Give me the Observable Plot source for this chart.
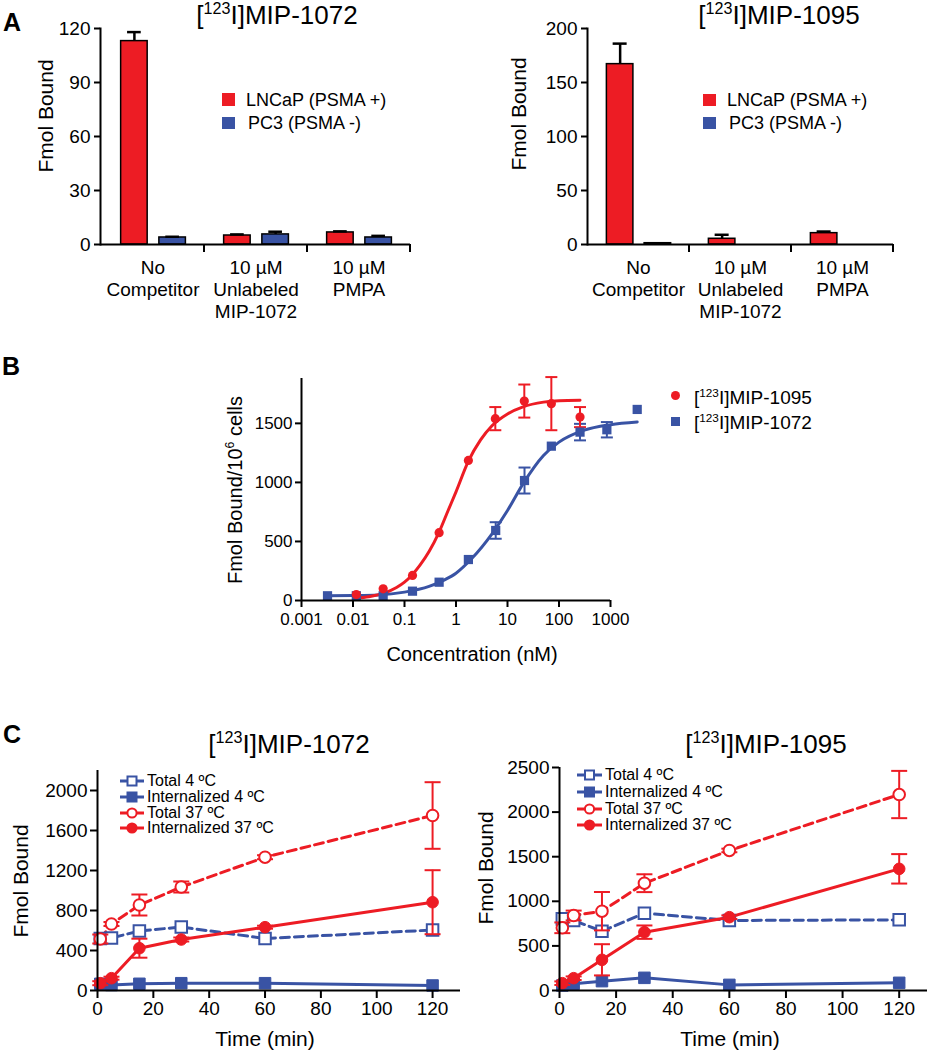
<!DOCTYPE html>
<html>
<head>
<meta charset="utf-8">
<script src="https://cdn.jsdelivr.net/npm/d3@7"></script>
<script src="https://cdn.jsdelivr.net/npm/@observablehq/plot@0.6"></script>
<style>
  body { margin: 0; background: #fff; }
  #fig { position: relative; width: 930px; height: 1050px; overflow: hidden;
         font-family: "Liberation Sans", Arial, Helvetica, sans-serif; color: #000; background: #fff; }
  .abs { position: absolute; white-space: nowrap; line-height: 1; }
  .panel { position: absolute; }
  sup { font-size: 0.62em; line-height: 0; vertical-align: baseline; position: relative; top: -0.62em; }
</style>
</head>
<body>
<div id="fig"></div>
<script>
// ---------------- DATA ----------------
// Panel A : binding with / without competitor
const groupsA = ["No\nCompetitor", "10 µM\nUnlabeled\nMIP-1072", "10 µM\nPMPA"];
const cellLines = ["LNCaP (PSMA +)", "PC3 (PSMA -)"];
const a1072_lncap = [113, 5.0, 6.7];
const a1072_lncap_sem = [5, 0.6, 0.6];
const a1072_pc3 = [3.9, 5.6, 3.9];
const a1072_pc3_sem = [0.4, 1.5, 0.9];
const a1095_lncap = [167, 5.3, 10.5];
const a1095_lncap_sem = [19, 3.7, 1.5];
const a1095_pc3 = [1.2, 0, 0];
const a1095_pc3_sem = [0, 0, 0];
const ticksA1072 = [0, 30, 60, 90, 120];
const ticksA1095 = [0, 50, 100, 150, 200];

// Panel B : saturation binding (nM vs fmol/10^6 cells)
const b1095_conc = [0.0116, 0.0385, 0.143, 0.47, 1.74, 5.8, 21.2, 71, 256];
const b1095_fmol = [50, 99, 212, 574, 1186, 1540, 1689, 1667, 1553];
const b1095_sem  = [0, 0, 0, 0, 0, 98, 140, 225, 85];
const b1072_conc = [0.0032, 0.0116, 0.0385, 0.143, 0.47, 1.74, 5.9, 21.4, 71, 256, 850, 3300];
const b1072_fmol = [40, 40, 40, 79, 155, 347, 593, 1016, 1307, 1426, 1446, 1618];
const b1072_sem  = [0, 0, 0, 0, 0, 0, 70, 110, 0, 70, 65, 0];
// fitted curves
const b1095_fitConc = [0.012, 0.02, 0.04, 0.07, 0.1, 0.2, 0.3, 0.47, 0.7, 1, 1.74, 3, 5, 10, 20, 50, 100, 256];
const b1095_fitFmol = [20, 32, 62, 110, 155, 300, 415, 580, 760, 920, 1180, 1360, 1480, 1580, 1640, 1680, 1692, 1695];
const b1072_fitConc = [0.0032, 0.01, 0.03, 0.1, 0.3, 0.6, 1, 2, 5, 10, 20, 50, 100, 300, 1000, 3300];
const b1072_fitFmol = [40, 42, 47, 71, 119, 175, 231, 353, 565, 762, 988, 1228, 1341, 1440, 1489, 1512];
const bTickValues = [0.001, 0.01, 0.1, 1, 10, 100, 1000];
const bTickLabels = ["0.001", "0.01", "0.1", "1", "10", "100", "1000"];
const bYTicks = [0, 500, 1000, 1500];

// Panel C : internalization time course
const timeMin = [1, 5, 15, 30, 60, 120];
const seriesC = ["Total 4 ºC", "Internalized 4 ºC", "Total 37 ºC", "Internalized 37 ºC"];
const c1072_total4 = [520, 525, 595, 635, 520, 605];
const c1072_total4_sem = [0, 0, 0, 0, 0, 0];
const c1072_int4 = [67, 55, 67, 73, 73, 50];
const c1072_int4_sem = [0, 0, 0, 0, 0, 0];
const c1072_total37 = [515, 665, 855, 1035, 1333, 1750];
const c1072_total37_sem = [45, 20, 105, 55, 20, 333];
const c1072_int37 = [73, 123, 423, 510, 633, 883];
const c1072_int37_sem = [20, 15, 95, 20, 15, 320];
const c1095_total4 = [803, 785, 665, 867, 785, 792];
const c1095_total4_sem = [0, 0, 0, 0, 0, 0];
const c1095_int4 = [56, 75, 105, 142, 63, 86];
const c1095_int4_sem = [0, 0, 0, 0, 0, 0];
const c1095_total37 = [703, 841, 889, 1203, 1570, 2197];
const c1095_total37_sem = [60, 55, 215, 100, 20, 265];
const c1095_int37 = [82, 138, 344, 654, 822, 1364];
const c1095_int37_sem = [20, 20, 175, 75, 20, 165];
const timeTicks = [0, 20, 40, 60, 80, 100, 120];
const cYTicks1072 = [0, 400, 800, 1200, 1600, 2000];
const cYTicks1095 = [0, 500, 1000, 1500, 2000, 2500];

// ---------------- STYLE ----------------
const RED = "#ed1c24", BLUE = "#3953a4";
const FONT = '"Liberation Sans", Arial, Helvetica, sans-serif';
const fig = document.getElementById("fig");
const plain = d => String(d);
const plotStyle = (size) => ({fontFamily: FONT, fontSize: size + "px", color: "#000", background: "transparent", overflow: "visible"});

function put(node, left, top) {
  const d = document.createElement("div");
  d.className = "panel";
  d.style.left = left + "px"; d.style.top = top + "px";
  d.appendChild(node);
  fig.appendChild(d);
}
function txt(html, x, y, {size = 19, anchor = "middle", rotate = 0, weight = "normal"} = {}) {
  const d = document.createElement("div");
  d.className = "abs";
  d.innerHTML = html;
  d.style.left = x + "px"; d.style.top = y + "px";
  d.style.fontSize = size + "px"; d.style.fontWeight = weight;
  const tx = anchor === "middle" ? "-50%" : anchor === "end" ? "-100%" : "0";
  d.style.transform = `translate(${tx},-50%)` + (rotate ? ` rotate(${rotate}deg)` : "");
  fig.appendChild(d);
}
// horizontal cap symbol for error bars
const capSymbol = {draw(ctx, size) { const w = Math.sqrt(size / Math.PI); ctx.moveTo(-w, 0); ctx.lineTo(w, 0); }};

// ---------------- PANEL A ----------------
function barPanel({lncap, lncapSem, pc3, pc3Sem, yMax, yTicks, width, ml, mr}) {
  const rows = groupsA.map((g, i) => ({g, l: lncap[i], ls: lncapSem[i], p: pc3[i], ps: pc3Sem[i]}));
  const bw = (width - ml - mr) / groupsA.length;
  const RSPAN = [0.19, 0.45], BSPAN = [0.56, 0.82];
  const barInset = ([a, b]) => ({insetLeft: a * bw, insetRight: (1 - b) * bw});
  const capInset = ([a, b]) => { const c = (a + b) / 2 * bw; return {insetLeft: c - 7, insetRight: bw - c - 7}; };
  const off = ([a, b]) => (a + b) / 2 * bw - bw / 2;
  const err = (val, sem, span) => {
    const r = rows.filter(d => d[sem] > 0);
    return [
      Plot.ruleX(r, {x: "g", y1: val, y2: d => d[val] + d[sem], dx: off(span), strokeWidth: 2.5}),
      Plot.tickY(r, {x: "g", y: d => d[val] + d[sem], ...capInset(span), strokeWidth: 2.5})
    ];
  };
  const plot = Plot.plot({
    width, height: 320, marginLeft: ml, marginRight: mr, marginTop: 28, marginBottom: 76,
    style: plotStyle(19),
    x: {domain: groupsA, padding: 0, axis: null},
    y: {domain: [0, yMax], axis: null},
    marks: [
      Plot.barY(rows.filter(d => d.l > 0), {x: "g", y: "l", fill: RED, stroke: "#000", strokeWidth: 1.5, ...barInset(RSPAN)}),
      Plot.barY(rows.filter(d => d.p > 0), {x: "g", y: "p", fill: BLUE, stroke: "#000", strokeWidth: 1.5, ...barInset(BSPAN)}),
      ...err("l", "ls", RSPAN),
      ...err("p", "ps", BSPAN),
      Plot.ruleY([0], {strokeWidth: 2}),
      Plot.frame({anchor: "left", strokeWidth: 2}),
      Plot.axisY({ticks: yTicks, tickFormat: plain, tickSize: 6, tickPadding: 4, strokeWidth: 2, label: null}),
      Plot.axisX({tickSize: 0, tickPadding: 14, lineHeight: 1.15, label: null})
    ]
  });
  // group-boundary ticks below the baseline, placed with the plot's own scales
  const xs = plot.scale("x"), ys = plot.scale("y");
  const base = ys.apply(0);
  d3.select(plot).append("g")
    .attr("stroke", "#000").attr("stroke-width", 2)
    .selectAll("line").data(xs.domain).join("line")
    .attr("x1", g => xs.apply(g) + xs.bandwidth).attr("x2", g => xs.apply(g) + xs.bandwidth)
    .attr("y1", base).attr("y2", base + 8);
  return plot;
}
put(barPanel({lncap: a1072_lncap, lncapSem: a1072_lncap_sem, pc3: a1072_pc3, pc3Sem: a1072_pc3_sem,
  yMax: 120, yTicks: ticksA1072, width: 460, ml: 100, mr: 50}), 0, 0);
put(barPanel({lncap: a1095_lncap, lncapSem: a1095_lncap_sem, pc3: a1095_pc3, pc3Sem: a1095_pc3_sem,
  yMax: 200, yTicks: ticksA1095, width: 470, ml: 127, mr: 37}), 460, 0);

// ---------------- PANEL B ----------------
function toRows(xs, ys, ss) { return xs.map((x, i) => ({x, y: ys[i], s: ss ? ss[i] : 0})); }
const bPts95 = toRows(b1095_conc, b1095_fmol, b1095_sem);
const bPts72 = toRows(b1072_conc, b1072_fmol, b1072_sem);
const bFit95 = toRows(b1095_fitConc, b1095_fitFmol);
const bFit72 = toRows(b1072_fitConc, b1072_fitFmol);
function errBars(rows, color, capR) {
  const r = rows.filter(d => d.s > 0);
  return [
    Plot.ruleX(r, {x: "x", y1: d => d.y - d.s, y2: d => d.y + d.s, stroke: color, strokeWidth: 2}),
    Plot.dot(r, {x: "x", y: d => d.y + d.s, symbol: capSymbol, r: capR, fill: "none", stroke: color, strokeWidth: 2}),
    Plot.dot(r, {x: "x", y: d => d.y - d.s, symbol: capSymbol, r: capR, fill: "none", stroke: color, strokeWidth: 2})
  ];
}
put(Plot.plot({
  width: 930, height: 330, marginLeft: 301, marginRight: 320, marginTop: 48, marginBottom: 60,
  style: plotStyle(17),
  x: {type: "log", domain: [0.001, 1000], axis: null},
  y: {domain: [0, 1880], axis: null},
  marks: [
    ...errBars(bPts72, BLUE, 6),
    ...errBars(bPts95, RED, 6),
    Plot.line(bFit72, {x: "x", y: "y", curve: "monotone-x", stroke: BLUE, strokeWidth: 3}),
    Plot.line(bFit95, {x: "x", y: "y", curve: "monotone-x", stroke: RED, strokeWidth: 3}),
    Plot.dot(bPts72, {x: "x", y: "y", symbol: "square", r: 5.2, fill: BLUE}),
    Plot.dot(bPts95, {x: "x", y: "y", symbol: "circle", r: 4.6, fill: RED}),
    Plot.ruleY([0], {strokeWidth: 2}),
    Plot.ruleX([0.001], {strokeWidth: 2}),
    Plot.axisX({ticks: bTickValues, tickFormat: d => bTickLabels[bTickValues.indexOf(d)], tickSize: 7, tickPadding: 5, strokeWidth: 2, label: null}),
    Plot.axisY({ticks: bYTicks, tickFormat: plain, tickSize: 6, tickPadding: 3, strokeWidth: 2, label: null})
  ]
}), 0, 330);

// ---------------- PANEL C ----------------
const styleC = [
  {color: BLUE, dash: true,  symbol: "square", open: true},
  {color: BLUE, dash: false, symbol: "square", open: false},
  {color: RED,  dash: true,  symbol: "circle", open: true},
  {color: RED,  dash: false, symbol: "circle", open: false}
];
function timePanel({vals, sems, yMax, yTicks, width, ml, mr, mt}) {
  const marks = [];
  vals.forEach((v, k) => {
    const st = styleC[k];
    const rows = toRows(timeMin, v, sems[k]);
    marks.push(Plot.line(rows, {x: "x", y: "y", stroke: st.color, strokeWidth: 3, strokeDasharray: st.dash ? "9,5" : null}));
  });
  vals.forEach((v, k) => {
    const st = styleC[k];
    const rows = toRows(timeMin, v, sems[k]);
    marks.push(...errBars(rows, st.color, 8));
    marks.push(Plot.dot(rows, {x: "x", y: "y", symbol: st.symbol, r: st.symbol === "square" ? 6.5 : 5.8,
      fill: st.open ? "white" : st.color, stroke: st.color, strokeWidth: st.open ? 2 : 1}));
  });
  return Plot.plot({
    width, height: 300, marginLeft: ml, marginRight: mr, marginTop: mt, marginBottom: 60,
    style: plotStyle(19),
    x: {domain: [0, 130], axis: null},
    y: {domain: [0, yMax], axis: null},
    marks: [
      ...marks,
      Plot.ruleY([0], {strokeWidth: 2}),
      Plot.ruleX([0], {strokeWidth: 2}),
      Plot.axisX({ticks: timeTicks, tickFormat: plain, tickSize: 8, tickPadding: 3, strokeWidth: 2, label: null}),
      Plot.axisY({ticks: yTicks, tickFormat: plain, tickSize: 7, tickPadding: 3, strokeWidth: 2, label: null})
    ]
  });
}
put(timePanel({vals: [c1072_total4, c1072_int4, c1072_total37, c1072_int37],
  sems: [c1072_total4_sem, c1072_int4_sem, c1072_total37_sem, c1072_int37_sem],
  yMax: 2200, yTicks: cYTicks1072, width: 460, ml: 97, mr: 0, mt: 20}), 0, 750);
put(timePanel({vals: [c1095_total4, c1095_int4, c1095_total37, c1095_int37],
  sems: [c1095_total4_sem, c1095_int4_sem, c1095_total37_sem, c1095_int37_sem],
  yMax: 2500, yTicks: cYTicks1095, width: 470, ml: 99, mr: 3, mt: 17}), 460, 750);

// ---------------- TEXT / LEGENDS ----------------
txt("A", 12, 22, {size: 25, weight: "bold"});
txt("B", 11, 366, {size: 25, weight: "bold"});
txt("C", 12, 734, {size: 25, weight: "bold"});

txt("[<sup>123</sup>I]MIP-1072", 277, 15, {size: 26});
txt("[<sup>123</sup>I]MIP-1095", 779, 15, {size: 26});
txt("[<sup>123</sup>I]MIP-1072", 289, 744, {size: 26});
txt("[<sup>123</sup>I]MIP-1095", 766, 744, {size: 26});

txt("Fmol Bound", 45, 116, {size: 21, rotate: -90});
txt("Fmol Bound", 518, 114, {size: 21, rotate: -90});
txt("Fmol Bound/10<sup>6</sup> cells", 235, 490, {size: 20, rotate: -90});
txt("Concentration (nM)", 472, 654, {size: 20});
txt("Fmol Bound", 20, 881, {size: 21, rotate: -90});
txt("Fmol Bound", 485, 868, {size: 21, rotate: -90});
txt("Time (min)", 265, 1038, {size: 21});
txt("Time (min)", 730, 1038, {size: 21});

function swatch(color, x, y, w, h, round) {
  const d = document.createElement("div");
  d.className = "abs";
  d.style.left = x + "px"; d.style.top = y + "px";
  d.style.width = w + "px"; d.style.height = h + "px";
  d.style.background = color;
  if (round) d.style.borderRadius = "50%";
  fig.appendChild(d);
}
// Panel A legends
swatch(RED, 222, 93, 13, 13); txt(cellLines[0], 246, 100, {size: 18, anchor: "start"});
swatch(BLUE, 222, 117, 13, 12); txt(cellLines[1], 248, 123, {size: 18, anchor: "start"});
swatch(RED, 703, 94, 13, 12); txt(cellLines[0], 727, 100, {size: 18, anchor: "start"});
swatch(BLUE, 703, 117, 13, 12); txt(cellLines[1], 729, 123, {size: 18, anchor: "start"});

// Panel B legend
swatch(RED, 670.5, 390.5, 9, 9, true); txt("[<sup>123</sup>I]MIP-1095", 694, 397, {size: 19, anchor: "start"});
swatch(BLUE, 670.5, 416.5, 9, 9); txt("[<sup>123</sup>I]MIP-1072", 694, 422, {size: 19, anchor: "start"});

// Panel C legends
function legendC(x0, x1, xt, ys) {
  seriesC.forEach((name, k) => {
    const st = styleC[k];
    const ns = "http://www.w3.org/2000/svg";
    const w = x1 - x0;
    const svg = document.createElementNS(ns, "svg");
    svg.setAttribute("width", w); svg.setAttribute("height", 14);
    svg.style.position = "absolute"; svg.style.left = x0 + "px"; svg.style.top = (ys[k] - 7) + "px";
    const ln = document.createElementNS(ns, "line");
    ln.setAttribute("x1", 0); ln.setAttribute("x2", w); ln.setAttribute("y1", 7); ln.setAttribute("y2", 7);
    ln.setAttribute("stroke", st.color); ln.setAttribute("stroke-width", 3);
    svg.appendChild(ln);
    let m;
    if (st.symbol === "square") {
      m = document.createElementNS(ns, "rect");
      m.setAttribute("x", w / 2 - 4.5); m.setAttribute("y", 2.5); m.setAttribute("width", 9); m.setAttribute("height", 9);
    } else {
      m = document.createElementNS(ns, "circle");
      m.setAttribute("cx", w / 2); m.setAttribute("cy", 7); m.setAttribute("r", 4.6);
    }
    m.setAttribute("fill", st.open ? "white" : st.color);
    m.setAttribute("stroke", st.color); m.setAttribute("stroke-width", 2);
    svg.appendChild(m);
    fig.appendChild(svg);
    txt(name, xt, ys[k], {size: 16, anchor: "start"});
  });
}
legendC(120, 144, 147, [781, 797, 813, 828]);
legendC(577, 602, 605, [775, 792, 809, 825]);
</script>
</body>
</html>
